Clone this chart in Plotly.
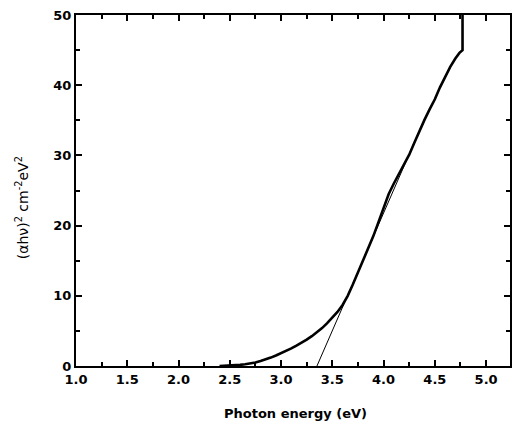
import plotly.graph_objects as go

# Measured curve (αhν)^2 vs photon energy
energy = [2.40, 2.45, 2.50, 2.55, 2.60, 2.65, 2.70, 2.75, 2.80, 2.85, 2.90, 2.95,
          3.00, 3.05, 3.10, 3.15, 3.20, 3.25, 3.30, 3.35, 3.40, 3.45, 3.50, 3.55,
          3.60, 3.65, 3.70, 3.75, 3.80, 3.85, 3.90, 3.95, 4.00, 4.05, 4.10, 4.15,
          4.20, 4.25, 4.30, 4.35, 4.40, 4.45, 4.50, 4.55, 4.60, 4.65, 4.70, 4.74,
          4.77, 4.77]
alpha_hv2 = [0.0, 0.02, 0.05, 0.1, 0.16, 0.24, 0.35, 0.5, 0.7, 0.92, 1.2, 1.5,
             1.8, 2.15, 2.5, 2.9, 3.3, 3.75, 4.25, 4.8, 5.4, 6.1, 6.85, 7.7,
             8.7, 10.0, 11.6, 13.3, 15.0, 16.7, 18.5, 20.5, 22.6, 24.5, 26.0, 27.3,
             28.6, 30.1, 31.8, 33.5, 35.1, 36.6, 38.0, 39.7, 41.2, 42.6, 43.8, 44.6,
             45.0, 51.0]

# Linear extrapolation (Tauc fit)
fit_x = [3.35, 4.40]
fit_y = [0.0, 35.2]

x_ticks = [1.0, 1.5, 2.0, 2.5, 3.0, 3.5, 4.0, 4.5, 5.0]
x_ticklabels = ["1.0", "1.5", "2.0", "2.5", "3.0", "3.5", "4.0", "4.5", "5.0"]
y_ticks = [0, 10, 20, 30, 40, 50]

FONT = "DejaVu Sans"

fig = go.Figure()
fig.add_trace(go.Scatter(x=fit_x, y=fit_y, mode="lines",
                         line=dict(color="black", width=1), showlegend=False))
fig.add_trace(go.Scatter(x=energy, y=alpha_hv2, mode="lines",
                         line=dict(color="black", width=2.6), showlegend=False))

axis_common = dict(showline=True, linecolor="black", linewidth=2, mirror="ticks",
                   ticks="inside", ticklen=6, tickwidth=2, tickcolor="black",
                   showgrid=False, zeroline=False,
                   tickfont=dict(family=FONT, size=13, color="black", weight="bold"))

fig.update_xaxes(range=[1.0, 5.233], tickvals=x_ticks, ticktext=x_ticklabels,
                 minor=dict(dtick=0.25, tick0=1.0, ticks="inside", ticklen=4,
                            tickwidth=2, tickcolor="black", showgrid=False),
                 **axis_common)
fig.update_yaxes(range=[0, 50], tickvals=y_ticks,
                 minor=dict(dtick=5, tick0=0, ticks="inside", ticklen=4,
                            tickwidth=2, tickcolor="black", showgrid=False),
                 **axis_common)

fig.add_annotation(text="Photon energy (eV)", xref="paper", yref="paper",
                   x=0.505, y=-0.134, showarrow=False, xanchor="center", yanchor="middle",
                   font=dict(family=FONT, size=13, color="black", weight="bold"))
fig.add_annotation(text="(αhν)<sup>2</sup> cm<sup>-2</sup>eV<sup>2</sup>", xref="paper", yref="paper",
                   x=-0.124, y=0.45, showarrow=False, textangle=-90,
                   xanchor="center", yanchor="middle",
                   font=dict(family=FONT, size=14, color="black"))

fig.update_layout(width=512, height=423,
                  margin=dict(l=76, r=0, t=15, b=57),
                  plot_bgcolor="white", paper_bgcolor="white")

fig.write_html("out.html", config={"displayModeBar": False},
               post_script="document.body.style.margin='0';document.body.style.overflow='hidden';")
